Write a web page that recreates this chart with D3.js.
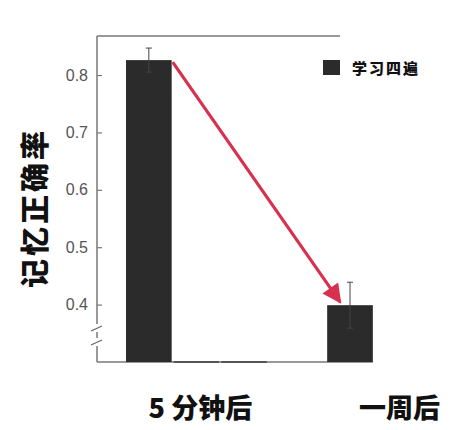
<!DOCTYPE html>
<html>
<head>
<meta charset="utf-8">
<title></title>
<script src="https://d3js.org/d3.v7.min.js"></script>
<style>
  body { margin: 0; background: #fff; }
</style>
</head>
<body>
<div id="chart"></div>
<script>
    // data
    var categories = ["5 分钟后", "一周后"];
    var series = ["学习四遍", "s2", "s3"];      // only the first series is shown
    var values = [0.826, 0.399];
    var errors = [0.021, 0.040];
    var yTicks = [0.4, 0.5, 0.6, 0.7, 0.8];
    var yTitle = "记忆正确率";

    var width = 468, height = 430;
    var plotLeft = 97, plotTop = 36, plotBottom = 362;
    var cjk = "'Noto Sans CJK SC', 'Noto Sans', sans-serif";
    var dark = "#2b2b2b";

    var svg = d3.select("#chart").append("svg")
        .attr("width", width)
        .attr("height", height);

    var y = d3.scaleLinear().domain([0.3, 0.868]).range([plotBottom, plotTop]);
    var x0 = d3.scaleBand().domain(categories).range([126, 468]).paddingInner(0.3);
    var x1 = d3.scaleBand().domain(series).range([0, x0.bandwidth()]).paddingInner(0.04);

    // frame lines
    svg.append("line")
        .attr("x1", plotLeft).attr("y1", plotTop).attr("x2", 340).attr("y2", plotTop)
        .attr("stroke", "#777").attr("stroke-width", 1.5);
    svg.append("line")
        .attr("x1", plotLeft).attr("y1", plotBottom)
        .attr("x2", x0(categories[1]) + x1(series[0]) + x1.bandwidth()).attr("y2", plotBottom)
        .attr("stroke", "#777").attr("stroke-width", 1.5);

    // y axis, ticks pointing inward
    var yAxis = d3.axisRight(y).tickValues(yTicks).tickSize(5).tickFormat(d3.format(".1f"));
    var gy = svg.append("g").attr("transform", "translate(" + plotLeft + ",0)").call(yAxis);
    gy.select(".domain").remove();
    gy.append("line").attr("x1", 0).attr("x2", 0).attr("y1", plotTop).attr("y2", plotBottom)
        .attr("stroke", "#777").attr("stroke-width", 1.5);
    gy.selectAll(".tick line").attr("stroke", "#777").attr("stroke-width", 1.2);
    gy.selectAll(".tick text")
        .attr("x", -9)
        .attr("text-anchor", "end")
        .attr("fill", "#555")
        .style("font-family", "'Liberation Sans', Arial, sans-serif")
        .style("font-size", "16px");

    // axis break marks
    [328, 342].forEach(function (yy) {
        svg.append("rect")
            .attr("x", plotLeft - 3).attr("y", yy - 4).attr("width", 6).attr("height", 8)
            .attr("fill", "#fff");
        svg.append("line")
            .attr("x1", plotLeft - 6).attr("y1", yy + 3).attr("x2", plotLeft + 5).attr("y2", yy - 2)
            .attr("stroke", "#666").attr("stroke-width", 1.3);
    });

    // bars (first series), other series sit on the baseline
    var groups = svg.selectAll(".grp").data(categories).enter().append("g")
        .attr("transform", function (d) { return "translate(" + x0(d) + ",0)"; });

    groups.append("rect")
        .attr("x", x1(series[0]))
        .attr("width", x1.bandwidth())
        .attr("y", function (d, i) { return y(values[i]); })
        .attr("height", function (d, i) { return plotBottom - y(values[i]); })
        .attr("fill", dark);

    groups.filter(function (d, i) { return i == 0; }).selectAll(".flat")
        .data(series.slice(1)).enter().append("line")
        .attr("x1", function (s) { return x1(s); })
        .attr("x2", function (s) { return x1(s) + x1.bandwidth(); })
        .attr("y1", plotBottom).attr("y2", plotBottom)
        .attr("stroke", "#555").attr("stroke-width", 2);

    // error bars
    groups.each(function (d, i) {
        var g = d3.select(this);
        var cx = x1(series[0]) + x1.bandwidth() / 2;
        g.append("line")
            .attr("x1", cx).attr("x2", cx)
            .attr("y1", y(values[i] + errors[i])).attr("y2", y(values[i] - errors[i]))
            .attr("stroke", "#444").attr("stroke-width", 1);
        [values[i] + errors[i], values[i] - errors[i]].forEach(function (v) {
            g.append("line")
                .attr("x1", cx - 3).attr("x2", cx + 3)
                .attr("y1", y(v)).attr("y2", y(v))
                .attr("stroke", "#444").attr("stroke-width", 1);
        });
    });

    // red arrow from top of first bar to the second bar
    var red = "#d8304f";
    svg.append("defs").append("marker")
        .attr("id", "head")
        .attr("viewBox", "0 0 10 10")
        .attr("refX", 9).attr("refY", 5)
        .attr("markerWidth", 7).attr("markerHeight", 6)
        .attr("markerUnits", "strokeWidth")
        .attr("orient", "auto")
        .append("path").attr("d", "M0,0 L10,5 L0,10 Z").attr("fill", red);

    var ax1 = x0(categories[0]) + x1(series[0]) + x1.bandwidth() + 1;
    var ay1 = y(values[0]) + 2;
    var ax2 = x0(categories[1]) + x1(series[0]) + 13;
    var ay2 = y(values[1]) - 3;
    svg.append("line")
        .attr("x1", ax1).attr("y1", ay1).attr("x2", ax2).attr("y2", ay2)
        .attr("stroke", red).attr("stroke-width", 3.2)
        .attr("marker-end", "url(#head)");

    // legend
    svg.append("rect")
        .attr("x", 323).attr("y", 60).attr("width", 17).attr("height", 15)
        .attr("fill", dark);
    svg.append("text")
        .attr("x", 352).attr("y", 74)
        .style("font-family", cjk).style("font-weight", "900").style("font-size", "15px")
        .style("letter-spacing", "2px")
        .attr("fill", "#111")
        .text(series[0]);

    // y title
    svg.append("text")
        .attr("transform", "translate(46,208) rotate(-90)")
        .attr("text-anchor", "middle")
        .style("font-family", cjk).style("font-weight", "900").style("font-size", "29px")
        .style("letter-spacing", "3px")
        .attr("fill", "#111")
        .text(yTitle);

    // category labels
    svg.selectAll(".cat").data(categories).enter().append("text")
        .attr("x", function (d, i) { return x0(d) + x0.bandwidth() / 2 + (i == 0 ? 4 : 2); })
        .attr("y", 418)
        .attr("text-anchor", "middle")
        .style("font-family", cjk).style("font-weight", "900").style("font-size", "27px")
        .attr("fill", "#111")
        .text(function (d) { return d; });
</script>
</body>
</html>
